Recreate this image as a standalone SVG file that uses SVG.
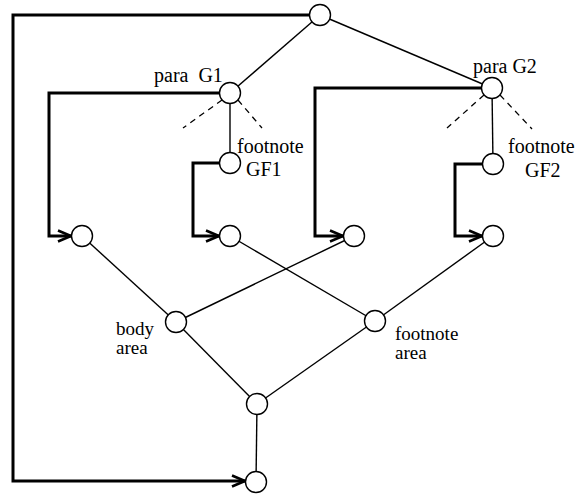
<svg xmlns="http://www.w3.org/2000/svg" width="578" height="495" viewBox="0 0 578 495">
  <style>
    .node { fill: #fff; stroke: #000; stroke-width: 1.4; }
    .edge { fill: none; stroke: #000; stroke-width: 1.4; }
    .dash { fill: none; stroke: #000; stroke-width: 1.3; stroke-dasharray: 6 5; }
    .flow { fill: none; stroke: #000; stroke-width: 3; marker-end: url(#open); }
    text { font-family: "Liberation Serif", "Times New Roman", serif; font-size: 20px; fill: #000; }
    text.tight { font-size: 19px; }
  </style>
  <defs>
    <marker id="open" markerUnits="userSpaceOnUse" viewBox="-14 -7 16 14" refX="0" refY="0" markerWidth="16" markerHeight="14" orient="auto" overflow="visible">
      <path d="M-13,-5.5 L0,0 L-13,5.5" fill="none" stroke="#000" stroke-width="2.6"/>
    </marker>
  </defs>

  <g id="connectors">
    <!-- tree edges -->
    <line class="edge" x1="320" y1="15" x2="230" y2="93"/>
    <line class="edge" x1="320" y1="15" x2="492" y2="88"/>
    <line class="edge" x1="230" y1="93" x2="230" y2="163"/>
    <line class="edge" x1="492" y1="88" x2="493" y2="164"/>
    <!-- elided siblings -->
    <line class="dash" x1="222" y1="100" x2="183" y2="128"/>
    <line class="dash" x1="238" y1="100" x2="262" y2="128"/>
    <line class="dash" x1="484" y1="95" x2="447" y2="128"/>
    <line class="dash" x1="500" y1="95" x2="532" y2="129"/>
    <!-- area edges -->
    <line class="edge" x1="82" y1="236" x2="176" y2="322"/>
    <line class="edge" x1="230" y1="236" x2="375" y2="321"/>
    <line class="edge" x1="354" y1="236" x2="176" y2="322"/>
    <line class="edge" x1="493" y1="236" x2="375" y2="321"/>
    <line class="edge" x1="176" y1="322" x2="257" y2="404"/>
    <line class="edge" x1="375" y1="321" x2="257" y2="404"/>
    <line class="edge" x1="257" y1="404" x2="256" y2="482"/>
    <!-- flow arrows -->
    <path class="flow" d="M220,93 H49 V236 H71"/>
    <path class="flow" d="M220,163 H193 V236 H219"/>
    <path class="flow" d="M482,88 H315 V236 H343"/>
    <path class="flow" d="M483,164 H455 V236 H482"/>
    <path class="flow" d="M310,15 H13 V481 H245"/>
  </g>

  <g id="root"><circle class="node" cx="320" cy="15" r="10.5"/></g>
  <g id="para-g1"><circle class="node" cx="230" cy="93" r="10.5"/>
    <text x="154" y="82" xml:space="preserve">para  G1</text></g>
  <g id="para-g2"><circle class="node" cx="492" cy="88" r="10.5"/>
    <text x="473" y="73">para G2</text></g>
  <g id="footnote-gf1"><circle class="node" cx="230" cy="163" r="10.5"/>
    <text x="237" y="153">footnote</text><text x="246" y="176">GF1</text></g>
  <g id="footnote-gf2"><circle class="node" cx="493" cy="164" r="10.5"/>
    <text x="508" y="153">footnote</text><text x="525" y="177">GF2</text></g>
  <g id="leaf-1"><circle class="node" cx="82" cy="236" r="10.5"/></g>
  <g id="leaf-2"><circle class="node" cx="230" cy="236" r="10.5"/></g>
  <g id="leaf-3"><circle class="node" cx="354" cy="236" r="10.5"/></g>
  <g id="leaf-4"><circle class="node" cx="493" cy="236" r="10.5"/></g>
  <g id="body-area"><circle class="node" cx="176" cy="322" r="10.5"/>
    <text class="tight" x="116" y="335">body</text><text class="tight" x="116" y="354">area</text></g>
  <g id="footnote-area"><circle class="node" cx="375" cy="321" r="10.5"/>
    <text class="tight" x="395" y="340">footnote</text><text class="tight" x="395" y="359">area</text></g>
  <g id="merge"><circle class="node" cx="257" cy="404" r="10.5"/></g>
  <g id="page"><circle class="node" cx="256" cy="482" r="10.5"/></g>
</svg>
